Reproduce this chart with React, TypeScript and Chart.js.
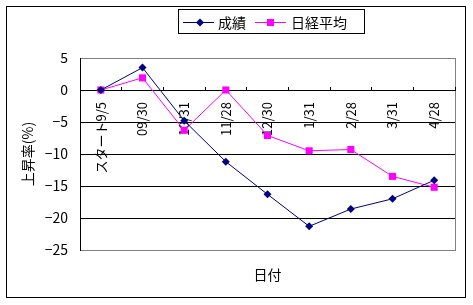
import React, { useEffect, useRef } from "react";
import { Chart, registerables } from "chart.js";

Chart.register(...registerables);

const categories = ["スタート9/5", "09/30", "10/31", "11/28", "12/30", "1/31", "2/28", "3/31", "4/28"];
const seriesNames = ["成績", "日経平均"];
const performance = [0, 3.5, -4.8, -11.2, -16.3, -21.3, -18.6, -17.0, -14.1];
const nikkei = [0, 1.9, -6.3, 0, -7.1, -9.5, -9.3, -13.5, -15.2];
const yMin = -25;
const yMax = 5;
const yStep = 5;
const yTitle = "上昇率(%)";
const xTitle = "日付";

const FONT = "'Noto Sans CJK JP', 'Noto Sans', sans-serif";
const NAVY = "#000080";
const MAGENTA = "#FF00FF";

const framePlugin = {
  id: "frame",
  beforeDraw(chart: any) {
    const { ctx, chartArea } = chart;
    ctx.save();
    ctx.fillStyle = "#ffffff";
    ctx.fillRect(0, 0, chart.width, chart.height);
    ctx.strokeStyle = "#000000";
    ctx.lineWidth = 1;
    ctx.strokeRect(6.5, 6.5, 459, 291);
    ctx.strokeStyle = "#808080";
    ctx.strokeRect(
      Math.round(chartArea.left) + 0.5,
      Math.round(chartArea.top) + 0.5,
      Math.round(chartArea.right - chartArea.left),
      Math.round(chartArea.bottom - chartArea.top)
    );
    ctx.restore();
  },
  afterDraw(chart: any) {
    const { ctx } = chart;
    ctx.save();
    const bx = 178.5, by = 9.5, bw = 186, bh = 24;
    ctx.fillStyle = "#ffffff";
    ctx.fillRect(bx, by, bw, bh);
    ctx.strokeStyle = "#000000";
    ctx.lineWidth = 1;
    ctx.strokeRect(bx, by, bw, bh);
    const cy = 22.5;
    ctx.font = "14px " + FONT;
    ctx.textBaseline = "middle";
    ctx.textAlign = "left";
    ctx.strokeStyle = NAVY;
    ctx.beginPath();
    ctx.moveTo(183, cy);
    ctx.lineTo(214, cy);
    ctx.stroke();
    ctx.fillStyle = NAVY;
    ctx.beginPath();
    ctx.moveTo(200, cy - 4);
    ctx.lineTo(204, cy);
    ctx.lineTo(200, cy + 4);
    ctx.lineTo(196, cy);
    ctx.closePath();
    ctx.fill();
    ctx.fillStyle = "#000000";
    ctx.fillText(seriesNames[0], 218, cy + 0.5);
    ctx.strokeStyle = MAGENTA;
    ctx.beginPath();
    ctx.moveTo(255, cy);
    ctx.lineTo(286, cy);
    ctx.stroke();
    ctx.fillStyle = MAGENTA;
    ctx.fillRect(267, cy - 3.5, 7, 7);
    ctx.fillStyle = "#000000";
    ctx.fillText(seriesNames[1], 291, cy + 0.5);
    ctx.restore();
  },
};

export default function App() {
  const ref = useRef<HTMLCanvasElement | null>(null);
  useEffect(() => {
    if (!ref.current) return;
    const chart = new Chart(ref.current, {
      type: "line",
      data: {
        labels: categories,
        datasets: [
          {
            label: seriesNames[0],
            data: performance,
            borderColor: NAVY,
            backgroundColor: NAVY,
            borderWidth: 1,
            pointStyle: "rectRot",
            pointRadius: 4,
            pointBorderWidth: 0,
            pointBackgroundColor: NAVY,
            tension: 0,
          },
          {
            label: seriesNames[1],
            data: nikkei,
            borderColor: MAGENTA,
            backgroundColor: MAGENTA,
            borderWidth: 1,
            pointStyle: "rect",
            pointRadius: 5,
            pointBorderWidth: 0,
            pointBackgroundColor: MAGENTA,
            tension: 0,
          },
        ],
      },
      options: {
        responsive: false,
        animation: false,
        devicePixelRatio: 1,
        layout: { padding: { left: 0, right: 18, top: 58, bottom: 0 } },
        plugins: {
          legend: { display: false },
          tooltip: { enabled: false },
        },
        scales: {
          x: {
            type: "category",
            position: { y: 0 } as any,
            offset: true,
            grid: {
              display: true,
              offset: true,
              drawOnChartArea: false,
              drawTicks: true,
              tickLength: -4,
              color: "#000000",
            },
            border: { display: true, color: "#000000", width: 1 },
            ticks: {
              minRotation: 90,
              maxRotation: 90,
              autoSkip: false,
              padding: 16,
              color: "#000000",
              font: { family: FONT, size: 13 },
            },
          },
          x2: {
            type: "category",
            position: "bottom",
            offset: true,
            grid: { display: false },
            border: { display: false },
            ticks: { display: false },
            title: {
              display: true,
              text: xTitle,
              color: "#000000",
              font: { family: FONT, size: 14 },
              padding: { top: 4, bottom: 22 },
            },
            afterFit: (scale: any) => {
              scale.height = 55;
            },
          },
          y: {
            min: yMin,
            max: yMax,
            ticks: {
              stepSize: yStep,
              padding: 12,
              color: "#000000",
              font: { family: FONT, size: 14 },
              callback: (v: any) => (Number(v) < 0 ? "\u2212" + Math.abs(Number(v)) : String(v)),
            },
            grid: {
              drawTicks: false,
              color: (c: any) =>
                c.tick && (c.tick.value === yMin || c.tick.value === yMax) ? "#808080" : "#000000",
            },
            border: { display: true, color: "#000000", width: 1 },
            title: {
              display: true,
              text: yTitle,
              color: "#000000",
              font: { family: FONT, size: 14 },
              padding: { top: 19, bottom: 0 },
            },
            afterFit: (scale: any) => {
              scale.width = 80;
            },
          },
        },
      },
      plugins: [framePlugin],
    } as any);
    return () => chart.destroy();
  }, []);
  return (
    <div style={{ position: "fixed", left: 0, top: 0, width: 473, height: 305 }}>
      <canvas ref={ref} width={473} height={305} style={{ width: 473, height: 305, display: "block" }} />
    </div>
  );
}
